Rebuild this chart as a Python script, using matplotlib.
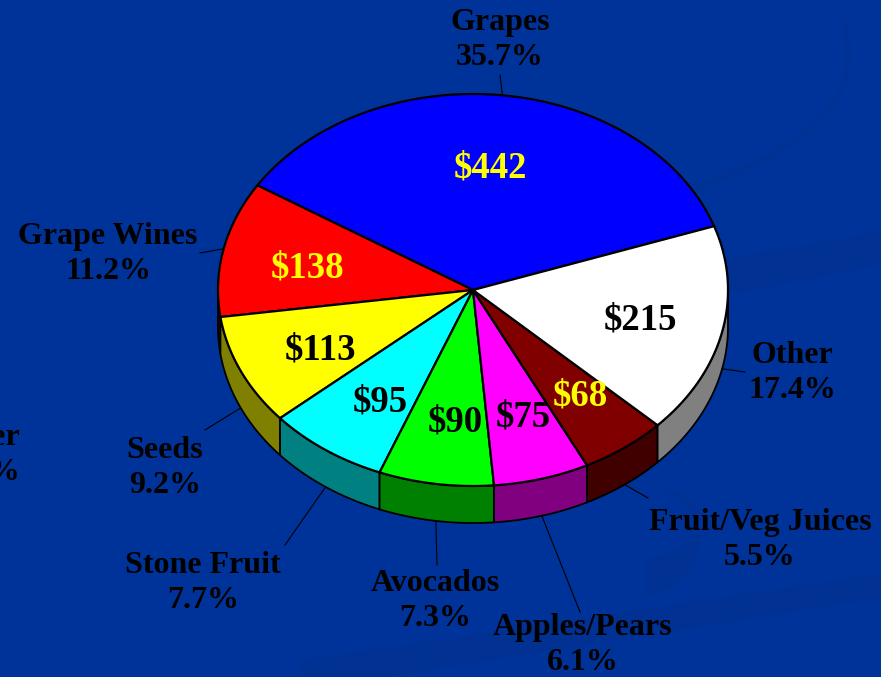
import numpy as np
import matplotlib.pyplot as plt
from matplotlib.patches import Polygon

names = ['Grapes', 'Grape Wines', 'Seeds', 'Stone Fruit', 'Avocados',
         'Apples/Pears', 'Fruit/Veg Juices', 'Other']
values = [442, 138, 113, 95, 90, 75, 68, 215]
pcts = ['35.7%', '11.2%', '9.2%', '7.7%', '7.3%', '6.1%', '5.5%', '17.4%']
top_colors = ['#0000FF', '#FF0000', '#FFFF00', '#00FFFF', '#00FF00',
              '#FF00FF', '#800000', '#FFFFFF']
side_colors = ['#000080', '#800000', '#808000', '#008080', '#008000',
               '#800080', '#400000', '#808080']
value_colors = ['#FFFF00', '#FFFF00', 'black', 'black', 'black', 'black',
                '#FFFF00', 'black']

# layout (pixel coords, y down)
cx, cy, rx, ry, depth = 473, 290, 255, 196, 37
start = 19.0
value_pos = [(490, 168), (307, 268), (320, 350), (380, 402), (455, 422),
             (523, 417), (580, 396), (640, 320)]
label_pos = [(500, 40), (108, 254), (165, 468), (203, 583), (435, 601),
             (583, 645), (760, 540), (792, 373)]
leader_end = [(500, 75), (200, 253), (205, 430), (285, 545), (437, 565),
              (580, 612), (648, 498), (745, 372)]

bg = '#003399'
sw = '#003193'
fig = plt.figure(figsize=(8.81, 6.77), dpi=100, facecolor=bg)
ax = fig.add_axes([0, 0, 1, 1])
ax.set_xlim(0, 881)
ax.set_ylim(677, 0)
ax.set_facecolor(bg)
ax.axis('off')

# subtle background swooshes
x = np.linspace(300, 881, 60)
ax.fill_between(x, 690 - (x - 300) * 0.16, 660 - (x - 300) * 0.15, color=sw, lw=0, zorder=0)
x = np.linspace(700, 881, 40)
ax.fill_between(x, 300 - (x - 700) * 0.2, 262 - (x - 700) * 0.17, color=sw, lw=0, zorder=0)
t = np.linspace(0, np.pi * 0.9, 60)
ax.fill_between(620 + 80 * np.sin(t), 480 + 60 * (1 - np.cos(t)), 480 + 40 * (1 - np.cos(t)),
                color=sw, lw=0, zorder=0)
t = np.linspace(0, 1, 60)
ax.plot(845 + 25 * np.sin(t * np.pi * 0.6) - 170 * t ** 2, 22 + 165 * t ** 0.8,
        color=sw, lw=4, zorder=0)

def pt(a, d=0):
    r = np.radians(a)
    return cx + rx * np.cos(r), cy - ry * np.sin(r) + d

total = sum(values)
angles = [start]
for v in values:
    angles.append(angles[-1] + 360.0 * v / total)

# side walls (front half only)
for i in range(len(values)):
    a0, a1 = angles[i] % 360, angles[i] % 360 + (angles[i + 1] - angles[i])
    for off in (0, 360):
        lo, hi = max(a0, 180 + off), min(a1, 360 + off)
        if hi <= lo:
            continue
        aa = np.linspace(lo, hi, 60)
        top = [pt(a) for a in aa]
        bot = [pt(a, depth) for a in aa[::-1]]
        ax.add_patch(Polygon(top + bot, closed=True, fc=side_colors[i],
                             ec='black', lw=1.3, zorder=2))

# top face
for i in range(len(values)):
    aa = np.linspace(angles[i], angles[i + 1], 120)
    verts = [(cx, cy)] + [pt(a) for a in aa]
    ax.add_patch(Polygon(verts, closed=True, fc=top_colors[i],
                         ec='black', lw=1.6, zorder=3))

font = 'Liberation Serif'
for i, name in enumerate(names):
    ax.text(*value_pos[i], '$%d' % values[i], color=value_colors[i],
            fontsize=26.5, fontweight='bold', family=font,
            ha='center', va='center', zorder=5)
    ax.text(*label_pos[i], name + '\n' + pcts[i], color='black',
            fontsize=23, fontweight='bold', family=font,
            ha='center', va='center', linespacing=1.27, zorder=5)
    mid = (angles[i] + angles[i + 1]) / 2
    d = depth if np.sin(np.radians(mid)) < 0 else 0
    ax_, ay_ = pt(mid, d)
    ex, ey = leader_end[i]
    ax.plot([ax_, ex], [ay_, ey], color='black', lw=0.8, zorder=1)

# label cut off by the left edge of the slide
ax.text(20, 455, 'Other\n17.4%', color='black', fontsize=23,
        fontweight='bold', family=font, ha='right', va='center',
        linespacing=1.27, zorder=5)

fig.savefig('out.png', dpi=100, facecolor=bg)
